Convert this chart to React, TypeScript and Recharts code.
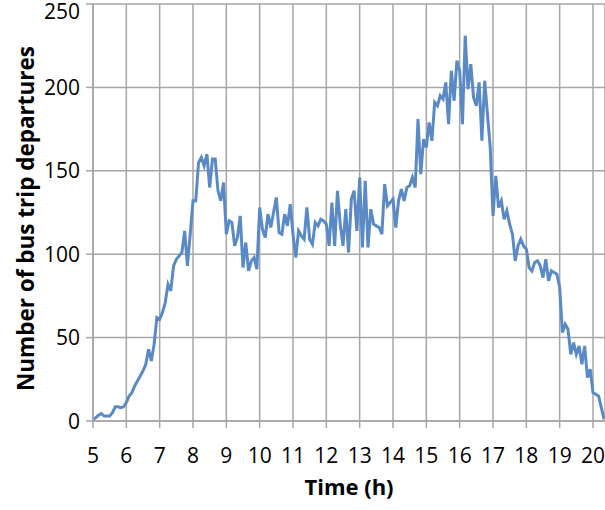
import React from "react";
import { LineChart, Line, XAxis, YAxis, CartesianGrid } from "recharts";

// departures counted in 5-minute bins, starting at 5:00
const START_HOUR = 5;
const BINS_PER_HOUR = 12;

const HOUR_TICKS = [5, 6, 7, 8, 9, 10, 11, 12, 13, 14, 15, 16, 17, 18, 19, 20];
const COUNT_TICKS = [0, 50, 100, 150, 200, 250];

const DEPARTURES = [
  1, 2, 3.5, 4.5, 3, 3, 3, 5, 8.5, 8.5, 8, 8.5,
  11, 15, 17, 21, 24, 27, 30, 34, 43, 36, 46, 62,
  61, 65, 71, 82, 78, 93, 97, 99, 101, 114, 93, 112,
  132, 132, 155, 158, 153, 160, 140, 157, 157, 138, 132, 143,
  112, 120, 119, 105, 110, 123, 92, 107, 90, 96, 98, 91,
  128, 115, 110, 124, 116, 125, 134, 113, 112, 124, 117, 130,
  112, 98, 114, 111, 109, 128, 109, 106, 119, 117, 121, 120,
  118, 105, 131, 105, 138, 118, 105, 127, 101, 133, 138, 114,
  146, 104, 144, 104, 127, 118, 117, 116, 112, 142, 129, 131,
  133, 116, 132, 139, 132, 140, 141, 146, 140, 181, 148, 169,
  164, 179, 168, 191, 189, 195, 193, 203, 178, 210, 192, 216,
  210, 178, 231, 199, 214, 194, 189, 203, 168, 204, 184, 164,
  123, 147, 128, 132, 121, 126, 118, 112, 96, 105, 109, 105,
  103, 92, 90, 95, 96, 93, 86, 97, 84, 90, 89, 88,
  80, 53, 58, 55, 40, 47, 40, 45, 34, 45, 26, 31,
  17, 16, 15, 8, 1,
];

const data = DEPARTURES.map((v, i) => ({ time: START_HOUR + i / BINS_PER_HOUR, count: v }));

const FONT = "'Open Sans', sans-serif";
const GRID = "#a6a6a6";
const TICK_SIZE = 21;

const YTick = ({ x, y, payload }: any) => {
  // keep the top label inside the picture, as the original does
  const ty = Math.max(y, 11);
  return (
    <text x={x} y={ty} dy="0.36em" textAnchor="end" fontFamily={FONT} fontSize={TICK_SIZE} fill="#000">
      {payload.value}
    </text>
  );
};

const YLabel = ({ viewBox }: any) => {
  const cx = viewBox.x + 25;
  const cy = viewBox.y + viewBox.height / 2 + 6;
  return (
    <text
      x={cx}
      y={cy}
      transform={`rotate(-90 ${cx} ${cy})`}
      textAnchor="middle"
      dominantBaseline="central"
      fontFamily={FONT}
      fontWeight={700}
      fontSize={22.5}
      fill="#000"
    >
      Number of bus trip departures
    </text>
  );
};

const XLabel = ({ viewBox }: any) => (
  <text
    x={viewBox.x + viewBox.width / 2}
    y={495}
    textAnchor="middle"
    fontFamily={FONT}
    fontWeight={700}
    fontSize={22}
    fill="#000"
  >
    Time (h)
  </text>
);

export default function App() {
  return (
    <div style={{ position: "absolute", left: 0, top: 0, background: "#fff" }}>
      <LineChart width={605} height={510} data={data} margin={{ top: 4, right: 0, left: 0, bottom: 0 }}>
        <CartesianGrid stroke={GRID} strokeWidth={1.5} />
        <XAxis
          dataKey="time"
          type="number"
          domain={[5, 20.36]}
          ticks={HOUR_TICKS}
          interval={0}
          height={89}
          tickSize={7}
          tickMargin={20}
          stroke={GRID}
          strokeWidth={1.5}
          tick={{ fill: "#000", fontSize: TICK_SIZE, fontFamily: FONT }}
          label={<XLabel />}
        />
        <YAxis
          type="number"
          domain={[0, 250]}
          ticks={COUNT_TICKS}
          interval={0}
          width={93}
          tickSize={7}
          tickMargin={6}
          stroke={GRID}
          strokeWidth={1.5}
          tick={<YTick />}
          label={<YLabel />}
        />
        <Line
          type="linear"
          dataKey="count"
          stroke="#5a8ac6"
          strokeWidth={3}
          dot={false}
          isAnimationActive={false}
        />
      </LineChart>
    </div>
  );
}
